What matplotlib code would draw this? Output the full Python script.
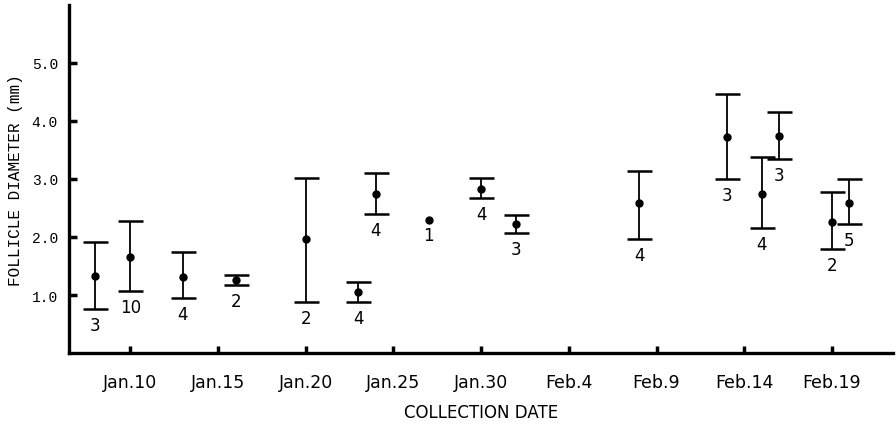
import numpy as np
import matplotlib
matplotlib.use("Agg")
import matplotlib.pyplot as plt

# collection day (days from Jan. 1), mean follicle diameter, range and sample size
days = [8, 10, 13, 16, 20, 23, 24, 27, 30, 32, 39, 44, 46, 47, 50, 51]
means = [1.33, 1.65, 1.31, 1.26, 1.97, 1.05, 2.74, 2.30, 2.83, 2.22, 2.58, 3.72, 2.74, 3.74, 2.25, 2.59]
upper = [1.91, 2.28, 1.74, 1.34, 3.02, 1.22, 3.10, np.nan, 3.02, 2.38, 3.14, 4.47, 3.37, 4.15, 2.78, 3.00]
lower = [0.76, 1.07, 0.95, 1.18, 0.88, 0.88, 2.40, np.nan, 2.67, 2.06, 1.97, 3.00, 2.16, 3.34, 1.79, 2.22]
counts = [3, 10, 4, 2, 2, 4, 4, 1, 4, 3, 4, 3, 4, 3, 2, 5]

tick_days = [10, 15, 20, 25, 30, 35, 40, 45, 50]
tick_labels = ["Jan.10", "Jan.15", "Jan.20", "Jan.25", "Jan.30", "Feb.4", "Feb.9", "Feb.14", "Feb.19"]
y_ticks = [1.0, 2.0, 3.0, 4.0, 5.0]

narrow = ["Liberation Sans Narrow", "DejaVu Sans"]
mono = ["Liberation Mono", "DejaVu Sans Mono"]

fig = plt.figure(figsize=(8.96, 4.35), dpi=100)
ax = fig.add_axes([0.077, 0.186, 0.92, 0.801])

x = np.array(days, dtype=float)
m = np.array(means)
up = np.array(upper)
lo = np.array(lower)
has_bar = ~np.isnan(up)
yerr = np.array([m[has_bar] - lo[has_bar], up[has_bar] - m[has_bar]])

ax.errorbar(x[has_bar], m[has_bar], yerr=yerr, fmt='none', ecolor='black',
            elinewidth=1.3, capsize=9, capthick=1.8)
ax.plot(x, m, 'o', color='black', markersize=5)

# sample sizes under each bar
for xi, mi, li, n in zip(x, m, lo, counts):
    ybase = mi if np.isnan(li) else li
    ax.annotate(str(n), (xi, ybase), xytext=(0, -5), textcoords='offset points',
                ha='center', va='top', fontsize=12, family=narrow)

ax.set_xlim(6.5, 53.5)
ax.set_ylim(0, 6.0)
ax.set_xticks(tick_days)
ax.set_xticklabels(tick_labels, family=narrow, fontsize=12.5)
ax.set_yticks(y_ticks)
ax.set_yticklabels([f"{v:.1f}" for v in y_ticks], family=mono, fontsize=10.5)
ax.tick_params(axis='x', direction='in', length=5, width=2.5, pad=14)
ax.tick_params(axis='y', direction='in', length=6, width=2.5, pad=8)

for side in ['top', 'right']:
    ax.spines[side].set_visible(False)
for side in ['left', 'bottom']:
    ax.spines[side].set_linewidth(2.4)

ax.set_ylabel("FOLLICLE DIAMETER (mm)", family=mono, fontsize=11.5, labelpad=6)
ax.set_xlabel("COLLECTION DATE", family=narrow, fontsize=12, labelpad=9)

fig.savefig("out.png", dpi=100)
